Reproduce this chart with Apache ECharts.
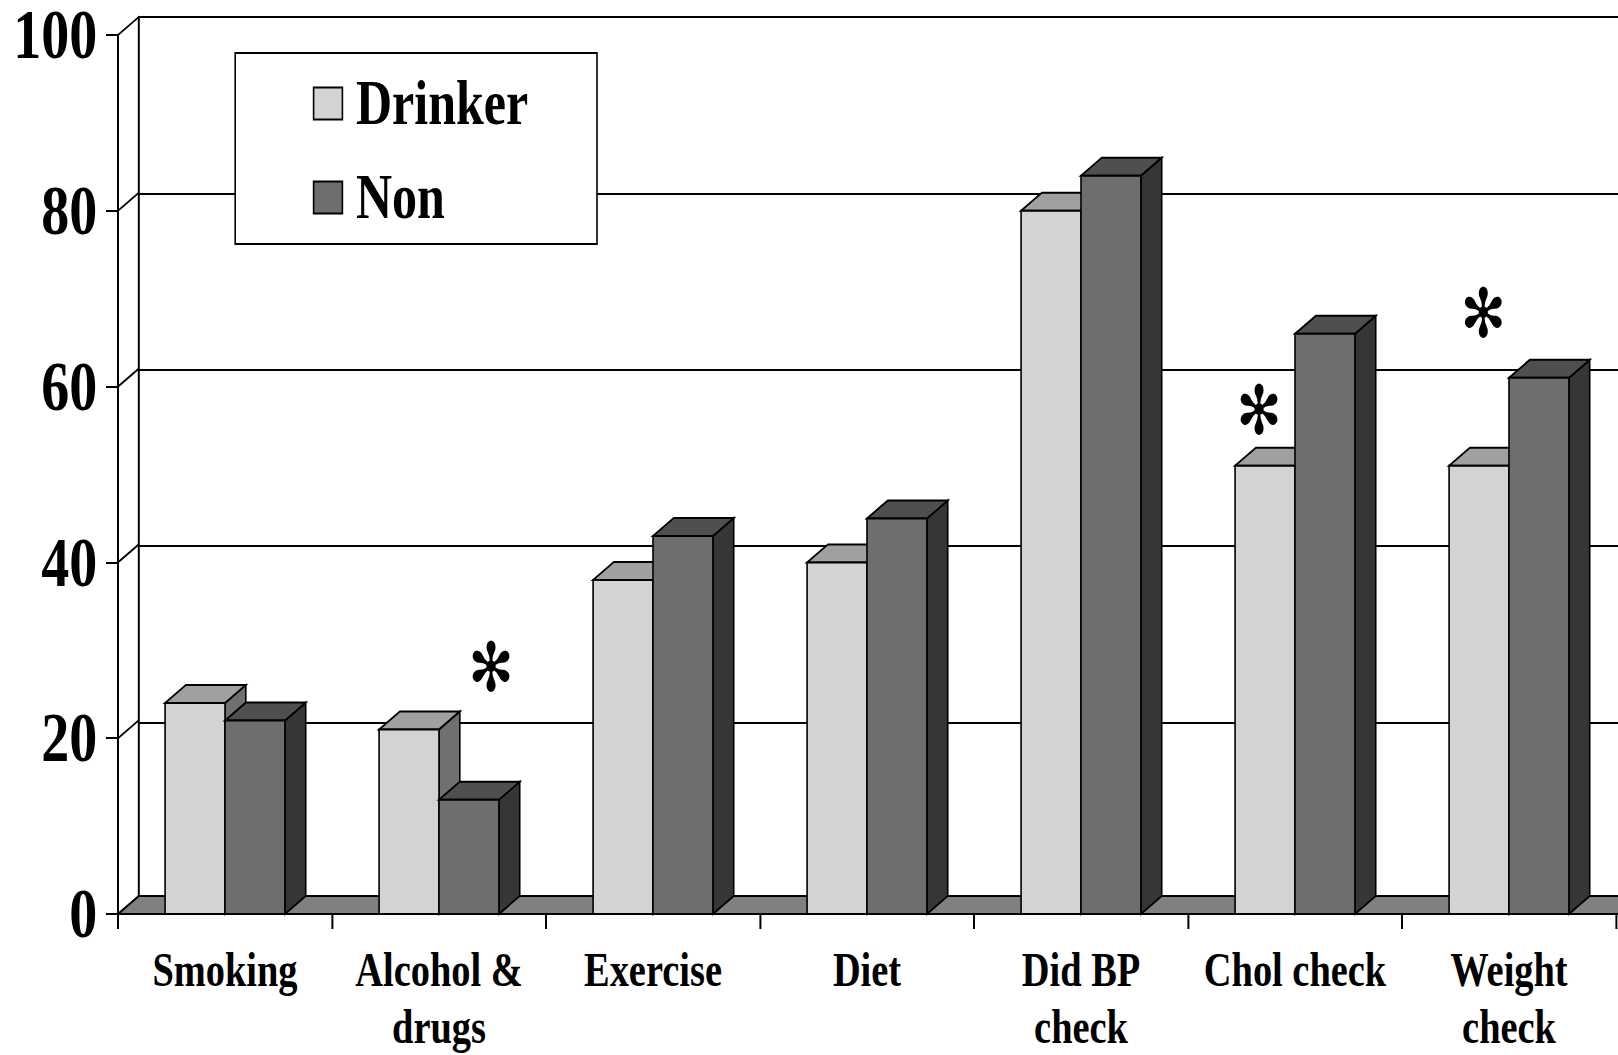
<!DOCTYPE html>
<html>
<head>
<meta charset="utf-8">
<script src="https://cdn.jsdelivr.net/npm/echarts@6/dist/echarts.min.js"></script>
<style>
  html, body { margin: 0; padding: 0; overflow: hidden; background: #fff; }
  /* the original artwork is squeezed horizontally, so the chart is drawn wider and scaled */
  #chart { width: 2023px; height: 1055px; transform: scaleX(0.8); transform-origin: 0 0; }
</style>
</head>
<body>
<div id="chart"></div>
<script>
const categories = ['Smoking', 'Alcohol &\ndrugs', 'Exercise', 'Diet', 'Did BP\ncheck', 'Chol check', 'Weight\ncheck'];
const drinker = [24, 21, 38, 40, 80, 51, 51];
const non = [22, 13, 43, 45, 84, 66, 61];
const yTicks = [0, 20, 40, 60, 80, 100];
// asterisks: category, height on the value scale, shift inside the category band
const starCategory = [1, 5, 6];
const starValue = [28, 57.3, 68.3];
const starShift = [0.243, -0.168, -0.12];

const DX = 26; // depth of the 3d box (chart units)
const DY = 18;
const FONT = "'Liberation Serif', 'Times New Roman', serif";

function barItem(dir, colors) {
  return function (params, api) {
    const i = api.value(0);
    const t = api.coord([i, api.value(1)]);
    const b = api.coord([i, 0]);
    const bw = api.size([1, 0])[0] * 0.28;
    const x0 = dir < 0 ? t[0] - bw : t[0];
    const x1 = x0 + bw;
    const st = { stroke: '#000', lineWidth: 2, lineJoin: 'miter' };
    return {
      type: 'group',
      children: [
        { type: 'polygon', shape: { points: [[x1, t[1]], [x1 + DX, t[1] - DY], [x1 + DX, b[1] - DY], [x1, b[1]]] },
          style: Object.assign({ fill: colors[2] }, st) },
        { type: 'polygon', shape: { points: [[x0, t[1]], [x1, t[1]], [x1 + DX, t[1] - DY], [x0 + DX, t[1] - DY]] },
          style: Object.assign({ fill: colors[1] }, st) },
        { type: 'rect', shape: { x: x0, y: t[1], width: bw, height: b[1] - t[1] },
          style: Object.assign({ fill: colors[0] }, st) }
      ]
    };
  };
}

let myChart = echarts.init(document.getElementById('chart'), null, { renderer: 'svg' });
myChart.setOption({
  animation: false,
  backgroundColor: '#fff',
  legend: {
    left: 294,
    top: 53,
    orient: 'vertical',
    icon: 'rect',
    itemWidth: 36,
    itemHeight: 32,
    itemGap: 31,
    padding: [19, 86, 15, 97],
    backgroundColor: '#fff',
    borderColor: '#000',
    borderWidth: 2,
    borderRadius: 0,
    z: 10,
    textStyle: { fontFamily: FONT, fontWeight: 'bold', fontSize: 62.5, lineHeight: 62, color: '#000', padding: [0, 0, 0, 12] },
    data: [
      { name: 'Drinker', itemStyle: { color: '#d3d3d3', borderColor: '#000', borderWidth: 2 } },
      { name: 'Non', itemStyle: { color: '#6e6e6e', borderColor: '#000', borderWidth: 2 } }
    ]
  },
  grid: [
    { left: 147.5, right: 3, top: 35, bottom: 138 },
    { left: 147.5 + DX, right: 3 - DX * 2, top: 35 - DY, bottom: 138 + DY }
  ],
  xAxis: [
    {
      type: 'category',
      gridIndex: 0,
      data: categories,
      z: 5,
      axisLine: { show: true, lineStyle: { color: '#000', width: 2 } },
      axisTick: { show: true, length: 15, lineStyle: { color: '#000', width: 2.5 } },
      axisLabel: { interval: 0, margin: 27, color: '#000', fontFamily: FONT, fontWeight: 'bold', fontSize: 48, lineHeight: 57 },
      splitLine: { show: false }
    },
    { type: 'category', gridIndex: 1, data: categories, show: false }
  ],
  yAxis: [
    {
      type: 'value',
      gridIndex: 0,
      min: 0, max: 100, interval: 20,
      z: 5,
      axisLine: { show: true, lineStyle: { color: '#000', width: 2.5 } },
      axisTick: { show: true, length: 15, lineStyle: { color: '#000', width: 2 } },
      axisLabel: { margin: 26, color: '#000', fontFamily: FONT, fontWeight: 'bold', fontSize: 70 },
      splitLine: { show: false }
    },
    {
      type: 'value',
      gridIndex: 1,
      min: 0, max: 100, interval: 20,
      axisLine: { show: true, lineStyle: { color: '#000', width: 2.5 } },
      axisTick: { show: false },
      axisLabel: { show: false },
      splitLine: { show: true, lineStyle: { color: '#000', width: 2 } }
    }
  ],
  series: [
    {
      // floor of the 3d box
      type: 'custom',
      name: 'floor',
      z: 1,
      silent: true,
      data: [[0, 0]],
      renderItem: function (params, api) {
        const cs = params.coordSys;
        const y = api.coord([0, 0])[1];
        return {
          type: 'polygon',
          shape: { points: [[cs.x, y], [cs.x + cs.width + DX * 2, y], [cs.x + cs.width + DX * 3, y - DY], [cs.x + DX, y - DY]] },
          style: { fill: '#808080', stroke: '#000', lineWidth: 2 }
        };
      }
    },
    {
      // side wall links between front ticks and back grid lines
      type: 'custom',
      name: 'wall',
      z: 1,
      silent: true,
      data: yTicks.map(v => [0, v]),
      renderItem: function (params, api) {
        const x = params.coordSys.x;
        const y = api.coord([0, api.value(1)])[1];
        return { type: 'line', shape: { x1: x, y1: y, x2: x + DX, y2: y - DY }, style: { stroke: '#000', lineWidth: 2 } };
      }
    },
    {
      type: 'custom',
      name: 'Drinker',
      z: 3,
      itemStyle: { color: '#d3d3d3' },
      data: drinker.map((v, i) => [i, v]),
      renderItem: barItem(-1, ['#d3d3d3', '#a0a0a0', '#707070'])
    },
    {
      type: 'custom',
      name: 'Non',
      z: 3,
      itemStyle: { color: '#6e6e6e' },
      data: non.map((v, i) => [i, v]),
      renderItem: barItem(1, ['#6e6e6e', '#4f4f4f', '#363636'])
    },
    {
      type: 'custom',
      name: 'stars',
      z: 4,
      silent: true,
      data: starCategory.map((c, k) => [c, starValue[k], starShift[k]]),
      renderItem: function (params, api) {
        const p = api.coord([api.value(0), api.value(1)]);
        const band = api.size([1, 0])[0];
        return {
          type: 'text',
          x: p[0] + api.value(2) * band,
          y: p[1],
          style: { text: '\u273B', fontFamily: 'DejaVu Sans', fontSize: 68, fill: '#000', align: 'center', verticalAlign: 'middle' }
        };
      }
    }
  ]
});
</script>
</body>
</html>
